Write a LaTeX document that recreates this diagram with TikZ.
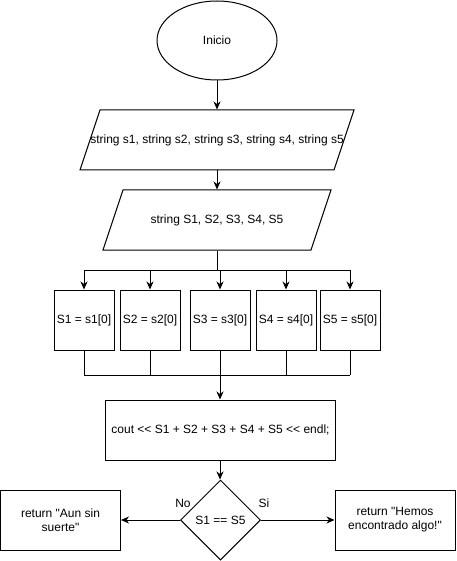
\documentclass[tikz,border=0pt]{standalone}
\usepackage{fontspec}
\setmainfont{Liberation Sans}[Ligatures=TeXOff]
\usetikzlibrary{shapes.geometric,arrows.meta}
\begin{document}
\begin{tikzpicture}[x=1pt,y=-1pt,line width=1pt,
  font=\fontsize{12}{14}\selectfont,
  arr/.style={-{Stealth[length=8pt,width=7pt,inset=2.5pt]}},
  stepbox/.style={draw,rectangle,minimum width=60pt,minimum height=60pt,inner sep=0pt},
  textbox/.style={rectangle,inner sep=0pt,minimum height=60pt},
  endbox/.style={draw,rectangle,minimum width=120pt,minimum height=60pt,inner sep=0pt,align=center}]
\useasboundingbox (0,0) rectangle (456,561);

% start
\node[draw,ellipse,minimum width=120pt,minimum height=79pt,inner sep=0pt] (start) at (217,40.5) {Inicio};

% input parallelograms: 60pt high, slanted by 20pt, drawn around the text node
\node[textbox] (in1) at (217,140) {string s1, string s2, string s3, string s4, string s5};
\draw ([shift={(-117,-30)}]in1.center) -- ([shift={(137,-30)}]in1.center)
   -- ([shift={(117,30)}]in1.center) -- ([shift={(-137,30)}]in1.center) -- cycle;

\node[textbox] (in2) at (217,220) {string S1, S2, S3, S4, S5};
\draw ([shift={(-94,-30)}]in2.center) -- ([shift={(114,-30)}]in2.center)
   -- ([shift={(94,30)}]in2.center) -- ([shift={(-114,30)}]in2.center) -- cycle;

% assignments
\node[stepbox] (b1) at (84,320) {S1 = s1[0]};
\node[stepbox] (b2) at (150,320) {S2 = s2[0]};
\node[stepbox] (b3) at (220,320) {S3 = s3[0]};
\node[stepbox] (b4) at (286,320) {S4 = s4[0]};
\node[stepbox] (b5) at (350,320) {S5 = s5[0]};

% output
\node[draw,rectangle,minimum width=230pt,minimum height=60pt,inner sep=0pt] (out) at (220.5,430) {cout << S1 + S2 + S3 + S4 + S5 << endl;};

% decision
\node[draw,diamond,minimum width=80pt,minimum height=80pt,inner sep=0pt] (dec) at (220.5,520) {S1 == S5};

\node[endbox] (no) at (60.5,520) {return "Aun sin\\suerte"};
\node[endbox] (yes) at (395,520) {return "Hemos\\encontrado algo!"};

% branch points
\coordinate (fork) at (217,270);
\coordinate (join) at (220,375);

% connectors
\draw[arr] (start.south) -- (in1.north);
\draw[arr] (in1.south) -- (in2.north);
\draw (in2.south) -- (fork);
\draw (fork -| b1) -- (fork -| b5);
\foreach \b in {b1,b2,b3,b4,b5}{
  \draw[arr] (fork -| \b) -- (\b.north);
  \draw (\b.south) -- (join -| \b);
}
\draw (join -| b1) -- (join -| b5);
\draw[arr] (join) -- (join |- out.north);
\draw[arr] (join |- out.south) -- (join |- dec.north);
\draw[arr] (dec.west) -- (no.east);
\draw[arr] (dec.east) -- (yes.west);

% branch labels
\node (lno) at (183,503) {No};
\node (lsi) at (264,503) {Si};
\end{tikzpicture}
\end{document}
